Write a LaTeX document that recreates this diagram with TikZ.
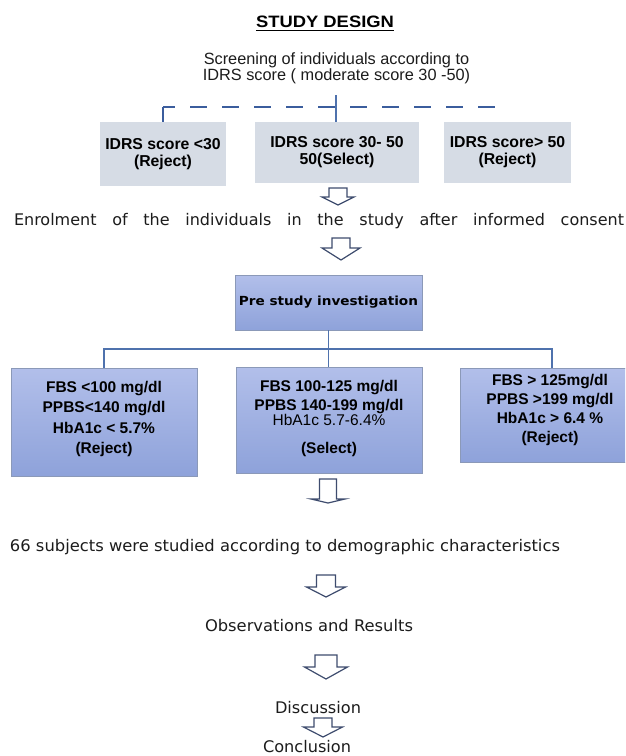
\documentclass[tikz,border=0pt]{standalone}
\usepackage{fontspec}
\usepackage{graphicx}
\setmainfont{Liberation Sans}
\newfontfamily\dvs{DejaVu Sans}
\definecolor{idrsfill}{HTML}{D6DCE5}
\definecolor{boxtop}{HTML}{B2BFEA}
\definecolor{boxbot}{HTML}{8EA2DA}
\definecolor{boxborder}{HTML}{8B99B8}
\definecolor{connblue}{HTML}{4F72AD}
\definecolor{dashblue}{HTML}{3B5D9D}
\definecolor{arrowcol}{HTML}{3E4C6E}
\definecolor{txt}{HTML}{1C1C1C}
\newcommand\blockarrow[6]{%
  \draw[arrowline] ({#1-#3},#2) -- ({#1+#3},#2) -- ({#1+#3},#4) -- ({#1+#5},#4)
     -- (#1,#6) -- ({#1-#5},#4) -- ({#1-#3},#4) -- cycle;}
\begin{document}
\begin{tikzpicture}[x=1pt,y=-1pt,
  ttl/.style={inner sep=0pt, font=\bfseries\fontsize{16.5}{18}\selectfont},
  scr/.style={inner sep=0pt, align=center, text=txt, font=\fontsize{16.3}{16.5}\selectfont},
  idrs/.style={fill=idrsfill, inner sep=0pt, align=center, font=\bfseries\fontsize{15.8}{17}\selectfont},
  bluebox/.style={draw=boxborder, line width=0.8pt, top color=boxtop, bottom color=boxbot, inner sep=0pt},
  boxtext/.style={inner sep=0pt, align=center, font=\bfseries\fontsize{15.5}{20.3}\selectfont},
  vtext/.style={inner sep=0pt, anchor=base, text=txt, font=\dvs\fontsize{16}{18}\selectfont},
  conn/.style={draw=connblue, line width=1.2pt},
  dashln/.style={draw=dashblue, line width=2.6pt, dash pattern=on 17pt off 15pt, dash phase=5pt},
  tickln/.style={draw=dashblue, line width=2.6pt},
  arrowline/.style={draw=arrowcol, fill=white, line width=1.2pt, line join=miter}]
\clip (0,0) rectangle (625,756);
\fill[white] (0,0) rectangle (625,756);

% title
\node[ttl, anchor=base] (title) at (325,27) {\resizebox{138pt}{\height}{STUDY DESIGN}};
\draw[line width=1.4pt] ([yshift=-3.6pt]title.base west) -- ([yshift=-3.6pt]title.base east);

% screening
\node[scr] (screen) at (336.5,68.5) {Screening of individuals according to\\IDRS score ( moderate score 30 -50)};

% IDRS boxes
\node[idrs, minimum width=126pt, minimum height=64pt] (i1) at (163,154) {IDRS score <30\\(Reject)};
\node[idrs, minimum width=164pt, minimum height=61pt] (i2) at (337,152.5) {IDRS score 30- 50\\50(Select)};
\node[idrs, minimum width=127pt, minimum height=61pt] (i3) at (507.5,152.5) {IDRS score> 50\\(Reject)};

\coordinate (sv) at (336,95);
\coordinate (dl) at (163,107);
\coordinate (dr) at (496,107);
\draw[conn, line width=1.6pt] (sv) -- (i2.north -| sv);
\draw[tickln] (i1.north) -- (dl);
\draw[dashln] (dl) -- (dr);

% arrows
\blockarrow{338}{188}{9}{197}{16}{205}

\node[vtext] (enrol) at (319,225) {\makebox[610pt][s]{\dvs\fontsize{16}{18}\selectfont Enrolment of the individuals in the study after informed consent}};

\blockarrow{341}{238}{9}{248}{19}{260}

% pre study
\node[bluebox, minimum width=187pt, minimum height=55pt, font=\dvs\bfseries\fontsize{12.5}{14}\selectfont] (pre) at (328.5,302.5)
  {\resizebox{179pt}{\height}{Pre study investigation}};

% lower boxes
\node[bluebox, minimum width=186pt, minimum height=108pt] (b4) at (104,422) {};
\node[bluebox, minimum width=186pt, minimum height=106pt] (b5) at (329,420) {};
\node[bluebox, minimum width=180pt, minimum height=94pt] (b6) at (550,415) {};

\node[boxtext] (t4) at (104,419) {FBS <100 mg/dl\\PPBS<140 mg/dl\\HbA1c < 5.7\%\\(Reject)};
\node[boxtext, font=\bfseries\fontsize{15.5}{19}\selectfont] (t5) at (329,418.5)
  {FBS 100-125 mg/dl\\PPBS 140-199 mg/dl\\[-4pt]{\mdseries HbA1c 5.7-6.4\%}\\[9pt](Select)};
\node[boxtext, font=\bfseries\fontsize{15.5}{19}\selectfont] (t6) at (550,410) {FBS > 125mg/dl\\PPBS >199 mg/dl\\HbA1c > 6.4 \%\\(Reject)};

\coordinate (bus) at (328,349);
\draw[conn] (pre.south) -- (b5.north -| pre.south);
\draw[conn] (b4.north) |- (bus) -| ([xshift=2pt]b6.north);

\blockarrow{328}{479}{8.5}{499}{17}{503}

\node[vtext] (subj) at (285,551) {\resizebox{550pt}{\height}{66 subjects were studied according to demographic characteristics}};

\blockarrow{326}{575}{9.5}{587}{19.5}{597}

\node[vtext] (obs) at (309,631) {\resizebox{208pt}{\height}{Observations and Results}};

\blockarrow{326}{655}{11}{667}{21.5}{679}

\node[vtext] (disc) at (318,713) {\resizebox{86pt}{\height}{Discussion}};

\blockarrow{323}{718}{9}{727}{19.5}{737}

\node[vtext] (concl) at (307,752) {\resizebox{88pt}{\height}{Conclusion}};
\end{tikzpicture}
\end{document}
